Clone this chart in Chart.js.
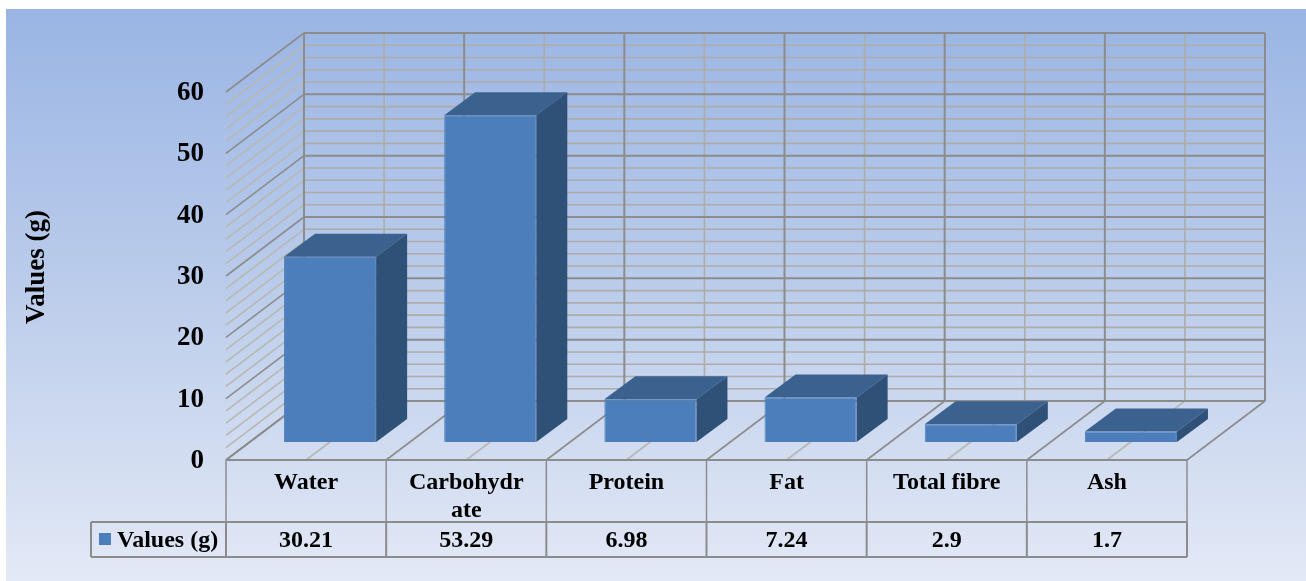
<!DOCTYPE html>
<html>
<head>
<meta charset="utf-8">
<title>Values (g)</title>
<script src="https://cdn.jsdelivr.net/npm/chart.js@4"></script>
<style>
    html, body { margin: 0; padding: 0; background: #fff; }
    canvas { display: block; }
</style>
</head>
<body>
<canvas id="myChart" width="1306" height="581"></canvas>
<script>
const seriesName = 'Values (g)';
const categories = ['Water', ['Carbohydr', 'ate'], 'Protein', 'Fat', 'Total fibre', 'Ash'];
const values = [30.21, 53.29, 6.98, 7.24, 2.9, 1.7];
const yMax = 60;
const yMajorStep = 10;
const yMinorStep = 2;

const serif = '"Liberation Serif", "Times New Roman", serif';
const tableFont = 'bold 24px ' + serif;
const axisFont = 'bold 27px ' + serif;

const frontColor = '#4c7ebb';
const topColor = '#3b628f';
const sideColor = '#2f5178';
const majorLine = '#8c8c8c';
const minorLine = '#aeaca8';
const sideMinorLine = '#b8b8b2';

// depth of the box around the bars, measured from the plane the bars stand in
const wallFront = { x: -24, y: 18 };
const wallBack = { x: 54, y: -41 };
const barDepth = { x: 31, y: -23 };

// data table below the floor
const tableRowY = 522;
const tableBottomY = 557;
const legendLeft = 91;

function line(ctx, x1, y1, x2, y2, color, width) {
    ctx.strokeStyle = color;
    ctx.lineWidth = width;
    ctx.beginPath();
    ctx.moveTo(x1, y1);
    ctx.lineTo(x2, y2);
    ctx.stroke();
}

function poly(ctx, points, color) {
    ctx.fillStyle = color;
    ctx.beginPath();
    points.forEach((p, i) => i ? ctx.lineTo(p[0], p[1]) : ctx.moveTo(p[0], p[1]));
    ctx.closePath();
    ctx.fill();
}

const box3d = {
    id: 'box3d',
    beforeDraw(chart) {
        const { ctx, width, height } = chart;
        const bg = ctx.createLinearGradient(0, 9, 0, height);
        bg.addColorStop(0, '#9ab5e4');
        bg.addColorStop(0.5, '#bccdeb');
        bg.addColorStop(1, '#e3e9f6');
        ctx.save();
        ctx.fillStyle = '#fff';
        ctx.fillRect(0, 0, width, height);
        ctx.fillStyle = bg;
        ctx.fillRect(6, 9, width - 6, height - 9);
        ctx.restore();
    },
    beforeDatasetsDraw(chart) {
        const { ctx, scales: { x, y } } = chart;
        const step = (x.right - x.left) / categories.length;
        const y0 = y.getPixelForValue(0);
        const yTop = y.getPixelForValue(yMax);
        const backL = x.left + wallBack.x;
        const backR = x.right + wallBack.x;
        const frontL = x.left + wallFront.x;

        ctx.save();

        // horizontal lines on the left wall and the back wall
        for (let v = 0; v <= yMax; v += yMinorStep) {
            const py = y.getPixelForValue(v);
            const major = v % yMajorStep === 0;
            line(ctx, frontL, py + wallFront.y, backL, py + wallBack.y, major ? majorLine : sideMinorLine, 1.6);
            if (!major) line(ctx, backL, py + wallBack.y, backR, py + wallBack.y, minorLine, 1.6);
        }

        // category lines: back wall and floor
        for (let i = 0; i <= categories.length * 2; i++) {
            const off = i * step / 2;
            const major = i % 2 === 0;
            line(ctx, backL + off, yTop + wallBack.y, backL + off, y0 + wallBack.y,
                major ? majorLine : minorLine, major ? 2 : 1.6);
            line(ctx, frontL + off, y0 + wallFront.y, backL + off, y0 + wallBack.y,
                major ? majorLine : sideMinorLine, 1.6);
        }

        for (let v = 0; v <= yMax; v += yMajorStep) {
            const py = y.getPixelForValue(v) + wallBack.y;
            line(ctx, backL, py, backR, py, majorLine, 2);
        }

        // top and side faces of each bar
        chart.getDatasetMeta(0).data.forEach(bar => {
            const { x: cx, y: top, base, width } = bar.getProps(['x', 'y', 'base', 'width']);
            const l = cx - width / 2;
            const r = cx + width / 2;
            const dx = barDepth.x;
            const dy = barDepth.y;
            poly(ctx, [[l, top], [r, top], [r + dx, top + dy], [l + dx, top + dy]], topColor);
            poly(ctx, [[r, top], [r + dx, top + dy], [r + dx, base + dy], [r, base]], sideColor);
        });

        ctx.restore();
    },
    afterDraw(chart) {
        const { ctx, scales: { x, y } } = chart;
        const step = (x.right - x.left) / categories.length;
        const tableTop = y.getPixelForValue(0) + wallFront.y;
        const frontL = x.left + wallFront.x;
        const frontR = x.right + wallFront.x;

        ctx.save();
        line(ctx, frontL, tableTop, frontR, tableTop, majorLine, 2);
        line(ctx, legendLeft, tableRowY, frontR, tableRowY, majorLine, 2);
        line(ctx, legendLeft, tableBottomY, frontR, tableBottomY, majorLine, 2);
        line(ctx, legendLeft, tableRowY, legendLeft, tableBottomY, majorLine, 2);
        for (let i = 0; i <= categories.length; i++) {
            const px = frontL + i * step;
            line(ctx, px, tableTop, px, tableRowY, majorLine, 1.5);
            line(ctx, px, tableRowY, px, tableBottomY, majorLine, 2);
        }

        ctx.fillStyle = '#000';
        ctx.font = tableFont;
        ctx.textBaseline = 'alphabetic';
        ctx.textAlign = 'center';
        values.forEach((v, i) => {
            ctx.fillText(String(v), frontL + (i + 0.5) * step, 547);
        });

        // legend key and series name in the first cell
        ctx.fillStyle = frontColor;
        ctx.fillRect(99, 533, 12, 12);
        ctx.fillStyle = '#000';
        ctx.textAlign = 'left';
        ctx.fillText(seriesName, 117, 547);

        // axis title beside the value ticks
        ctx.font = axisFont;
        ctx.textAlign = 'center';
        ctx.textBaseline = 'middle';
        ctx.translate(37, 267);
        ctx.rotate(-Math.PI / 2);
        ctx.fillText(seriesName, 0, 0);
        ctx.restore();
    }
};

const ctx = document.getElementById('myChart').getContext('2d');

new Chart(ctx, {
    type: 'bar',
    data: {
        labels: categories,
        datasets: [
            {
                label: seriesName,
                data: values,
                backgroundColor: frontColor,
                borderColor: '#4f80bc',
                borderWidth: 1,
                categoryPercentage: 0.575,
                barPercentage: 1
            }
        ]
    },
    options: {
        responsive: false,
        animation: false,
        layout: { padding: { top: 74, right: 95, left: 0, bottom: 0 } },
        plugins: {
            legend: { display: false },
            tooltip: { enabled: false }
        },
        scales: {
            x: {
                grid: { display: false, drawTicks: false },
                border: { display: false },
                afterFit: scale => { scale.height = 139; },
                ticks: {
                    autoSkip: false,
                    maxRotation: 0,
                    minRotation: 0,
                    padding: 26,
                    labelOffset: wallFront.x,
                    color: '#000',
                    font: { family: serif, size: 24, weight: 'bold', lineHeight: 1.2 }
                }
            },
            y: {
                min: 0,
                max: yMax,
                grid: { display: false, drawTicks: false },
                border: { display: false },
                afterFit: scale => { scale.width = 250; },
                ticks: {
                    stepSize: yMajorStep,
                    padding: 46,
                    labelOffset: wallFront.y + 1,
                    color: '#000',
                    font: { family: serif, size: 27, weight: 'bold' }
                }
            }
        }
    },
    plugins: [box3d]
});
</script>
</body>
</html>
